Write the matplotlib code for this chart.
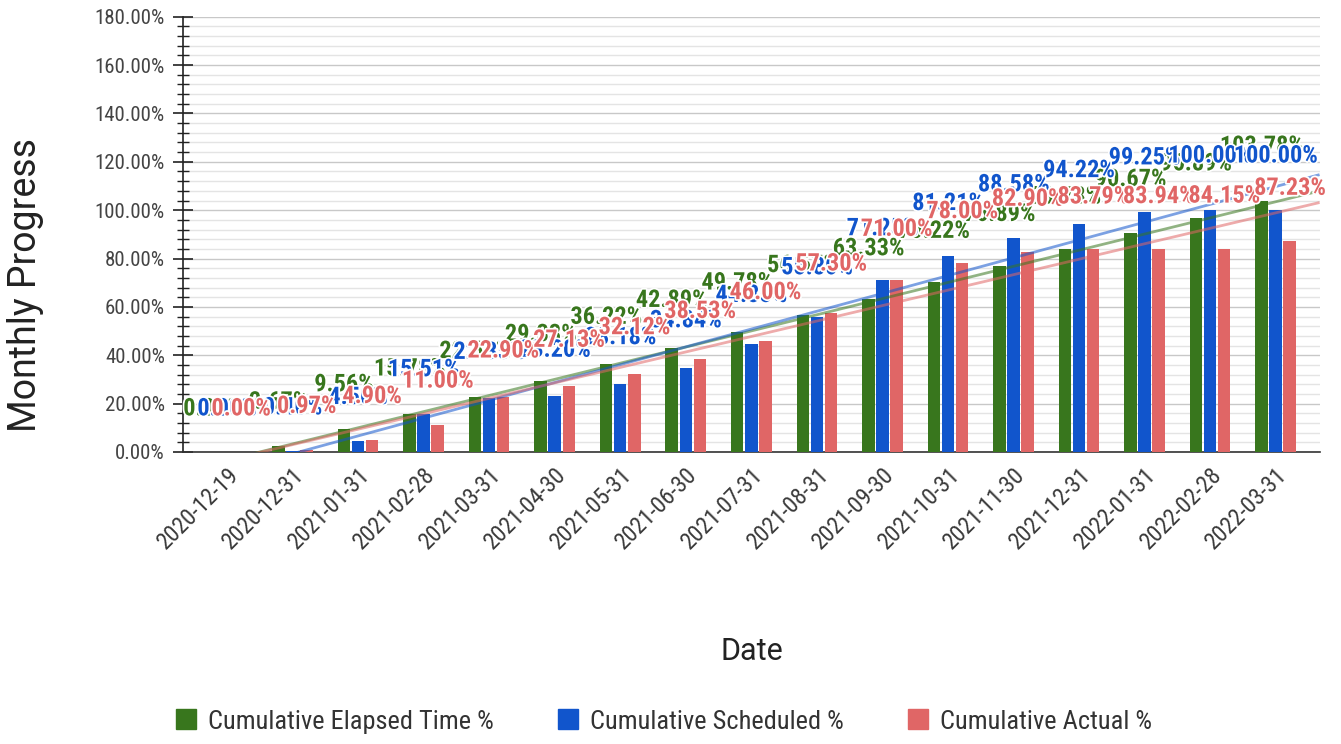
import numpy as np
import matplotlib
matplotlib.use("Agg")
import matplotlib.pyplot as plt
import matplotlib.patheffects as pe
from matplotlib import font_manager
from matplotlib.ticker import MultipleLocator, FuncFormatter
from matplotlib.lines import Line2D

# data
dates = ['2020-12-19', '2020-12-31', '2021-01-31', '2021-02-28', '2021-03-31',
         '2021-04-30', '2021-05-31', '2021-06-30', '2021-07-31', '2021-08-31',
         '2021-09-30', '2021-10-31', '2021-11-30', '2021-12-31', '2022-01-31',
         '2022-02-28', '2022-03-31']
elapsed = [0.00, 2.67, 9.56, 15.78, 22.67, 29.33, 36.22, 42.89, 49.78, 56.67,
           63.33, 70.22, 76.89, 83.78, 90.67, 96.89, 103.78]
scheduled = [0.00, 0.40, 4.50, 15.51, 22.35, 23.20, 28.18, 34.84, 44.85, 55.80,
             71.25, 81.21, 88.58, 94.22, 99.25, 100.00, 100.00]
actual = [0.00, 0.97, 4.90, 11.00, 22.90, 27.13, 32.12, 38.53, 46.00, 57.30,
          71.00, 78.00, 82.90, 83.79, 83.94, 84.15, 87.23]

series_names = ['Cumulative Elapsed Time %', 'Cumulative Scheduled %', 'Cumulative Actual %']
colors = ['#38761d', '#1155cc', '#e06666']


def pick_font(prefs):
    """Return the first installed family from prefs (narrow faces first)."""
    names = {f.name for f in font_manager.fontManager.ttflist}
    for p in prefs:
        if p in names:
            return p
    return 'DejaVu Sans'


NARROW = pick_font(['Liberation Sans Narrow', 'Roboto Condensed', 'Open Sans Condensed',
                    'DejaVu Sans Condensed', 'Roboto'])


def pct(v, pos=None):
    return '%.2f%%' % v


def main():
    fig = plt.figure(figsize=(13.41, 7.44), dpi=100)
    ax = fig.add_axes([0.1365, 0.3925, 0.8475, 0.585])

    x = np.arange(len(dates))
    width = 0.19
    step = 0.215
    all_series = [elapsed, scheduled, actual]

    for k, (vals, col) in enumerate(zip(all_series, colors)):
        ax.bar(x + (k - 1) * step, vals, width, color=col, zorder=3)

    # linear trendlines across the whole plot
    xl = (-0.67, 16.67)
    xs = np.array(xl)
    for vals, col in zip(all_series, colors):
        m, b = np.polyfit(x, vals, 1)
        ax.plot(xs, m * xs + b, color=col, lw=2, alpha=0.55, zorder=4,
                solid_capstyle='butt')

    # data labels (green first, red on top)
    for k, (vals, col) in enumerate(zip(all_series, colors)):
        for i, v in enumerate(vals):
            ax.annotate(pct(v), (x[i] + (k - 1) * step, v),
                        xytext=(0, 31 + 0.08 * v), textcoords='offset points',
                        ha='center', va='center', fontsize=17.5, fontweight='bold',
                        color=col, family=NARROW, zorder=6 + k,
                        path_effects=[pe.withStroke(linewidth=2.5, foreground='white')])

    ax.set_xlim(*xl)
    ax.set_ylim(0, 180)
    ax.yaxis.set_major_locator(MultipleLocator(20))
    ax.yaxis.set_minor_locator(MultipleLocator(4))
    ax.yaxis.set_major_formatter(FuncFormatter(pct))
    ax.grid(which='major', axis='y', color='#c8c8c8', lw=1, zorder=0)
    ax.grid(which='minor', axis='y', color='#e4e4e4', lw=1, zorder=0)
    ax.set_axisbelow(True)

    ax.set_xticks(x)
    ax.set_xticklabels(dates, rotation=45, ha='right', rotation_mode='anchor',
                       fontsize=17, color='#3a3a3a', family=NARROW)
    ax.tick_params(axis='x', length=0, pad=8)
    ax.tick_params(axis='y', which='major', direction='inout', length=14, width=1.2,
                   color='#222222', labelsize=15, labelcolor='#444444', pad=6)
    ax.tick_params(axis='y', which='minor', direction='inout', length=8, width=1,
                   color='#222222')
    for lab in ax.get_yticklabels():
        lab.set_family(NARROW)

    for s in ['top', 'right']:
        ax.spines[s].set_visible(False)
    ax.spines['left'].set_color('#222222')
    ax.spines['left'].set_linewidth(1.2)
    ax.spines['bottom'].set_color('#333333')
    ax.spines['bottom'].set_linewidth(1.2)

    fig.text(0.019, 0.617, 'Monthly Progress', fontsize=27, color='#222222',
             family='Roboto', rotation=90, ha='center', va='center')
    fig.text(0.561, 0.125, 'Date', fontsize=22, color='#222222', family='Roboto',
             ha='center', va='center')

    handles = [Line2D([], [], marker='s', ls='', color=c, markersize=14) for c in colors]
    fig.legend(handles, series_names, loc='center', bbox_to_anchor=(0.494, 0.03),
               ncol=3, frameon=False, handlelength=1.0, handletextpad=0.35,
               columnspacing=2.3, prop={'family': NARROW, 'size': 19},
               labelcolor='#333333')

    fig.savefig('out.png', dpi=100)


if __name__ == "__main__":
    main()
